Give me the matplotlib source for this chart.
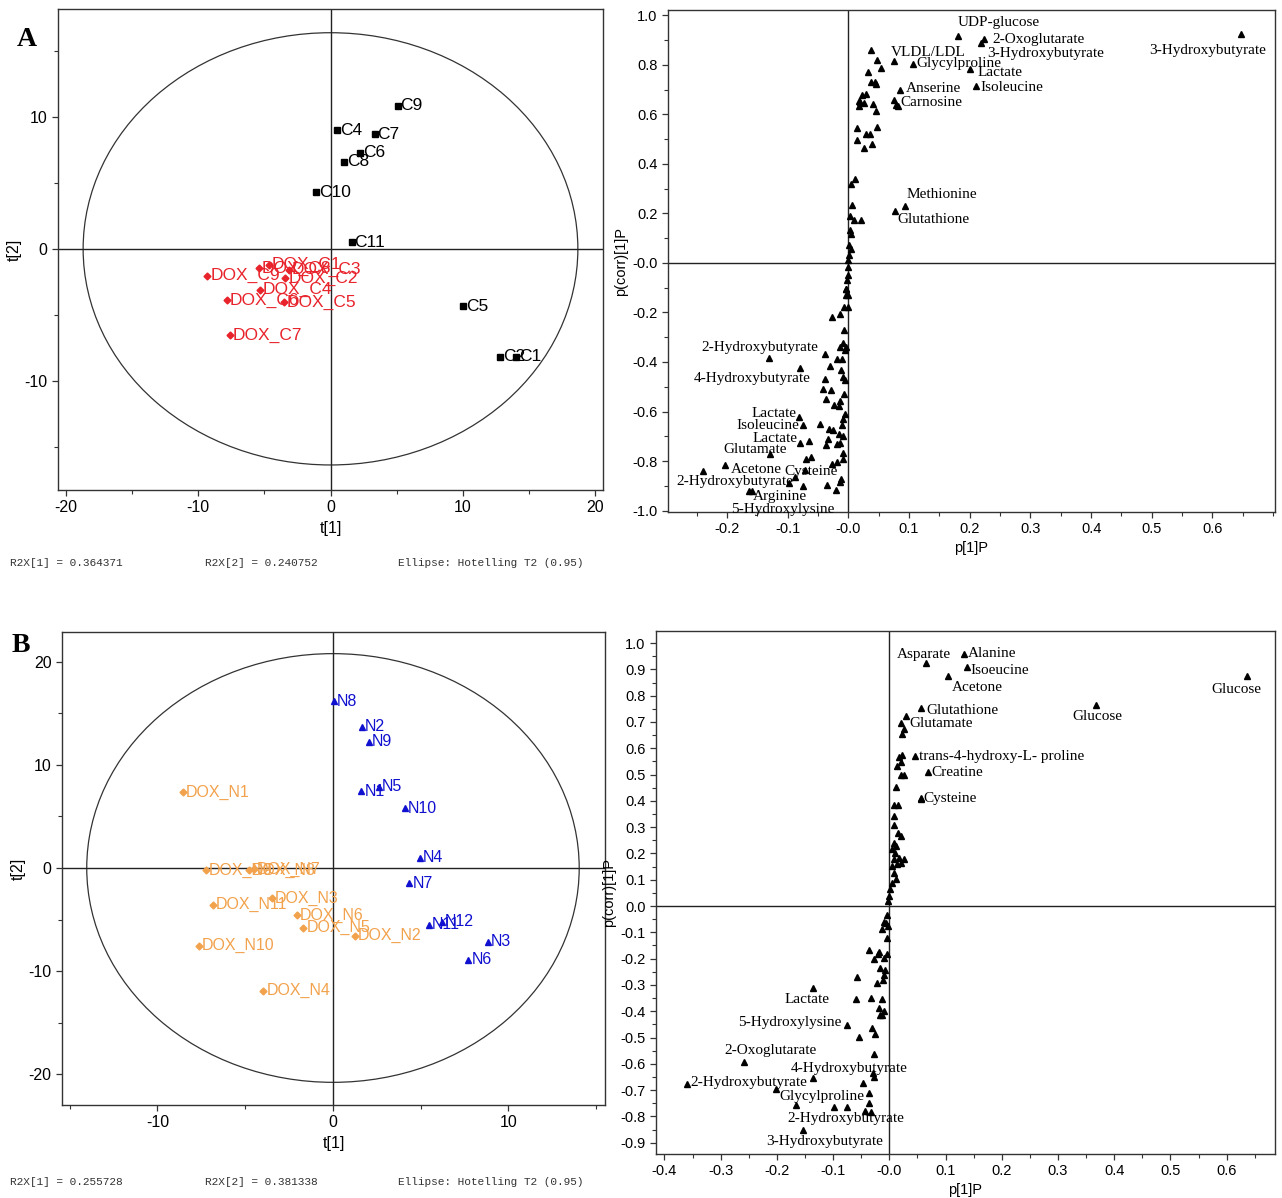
import matplotlib
matplotlib.use("Agg")
import matplotlib.pyplot as plt
from matplotlib.patches import Ellipse
from matplotlib.ticker import MultipleLocator

# ---- panel A, scores ----
a_ctrl_names = ["C1", "C2", "C4", "C5", "C6", "C7", "C8", "C9", "C10", "C11"]
a_ctrl_t1 = [14.0, 12.85, 0.51, 9.99, 2.22, 3.33, 1.05, 5.07, -1.11, 1.59]
a_ctrl_t2 = [-8.17, -8.17, 8.99, -4.35, 7.28, 8.71, 6.6, 10.87, 4.3, 0.51]
a_dox_names = ["DOX_C8", "DOX_C1", "DOX_C3", "DOX_C2", "DOX_C9", "DOX_C4",
               "DOX_C6", "DOX_C5", "DOX_C7"]
a_dox_t1 = [-5.43, -4.65, -3.15, -3.42, -9.3, -5.34, -7.83, -3.54, -7.62]
a_dox_t2 = [-1.49, -1.21, -1.57, -2.25, -2.05, -3.09, -3.88, -4.07, -6.57]
a_r2x = ["R2X[1] = 0.364371", "R2X[2] = 0.240752", "Ellipse: Hotelling T2 (0.95)"]
a_ellipse = (18.7, 16.4)

# ---- panel A, loadings ----
a_lab_names = ["UDP-glucose", "2-Oxoglutarate", "3-Hydroxybutyrate", "3-Hydroxybutyrate",
               "VLDL/LDL", "Glycylproline", "Lactate", "Isoleucine", "Anserine", "Carnosine",
               "Methionine", "Glutathione", "2-Hydroxybutyrate", "4-Hydroxybutyrate",
               "Lactate", "Isoleucine", "Lactate", "Glutamate", "Acetone", "Cysteine",
               "2-Hydroxybutyrate", "Arginine", "5-Hydroxylysine"]
a_lab_x = [0.181, 0.223, 0.218, 0.647, 0.076, 0.106, 0.201, 0.211, 0.085, 0.079,
           0.093, 0.077, -0.130, -0.079, -0.082, -0.075, -0.079, -0.129, -0.203, -0.071,
           -0.098, -0.158, -0.163]
a_lab_y = [0.917, 0.903, 0.888, 0.926, 0.816, 0.802, 0.782, 0.715, 0.70, 0.637,
           0.230, 0.21, -0.384, -0.424, -0.622, -0.656, -0.726, -0.771, -0.818, -0.836,
           -0.89, -0.923, -0.923]
a_other_x = [0.075, 0.082, 0.038, 0.048, 0.054, 0.032, 0.037, 0.044, 0.045, 0.022, 0.029,
             0.017, 0.020, 0.026, 0.017, 0.041, 0.046, 0.015, 0.048, 0.029, 0.035, 0.014,
             0.039, 0.026, 0.011, 0.005, 0.006, 0.003, 0.009, 0.021, 0.003, 0.004, 0.001,
             0.005, 0.001, 0.0, -0.001, -0.001, -0.002, -0.003, -0.003,
             -0.038, -0.026, -0.013, -0.004, -0.001, -0.007, -0.001, -0.007, -0.014, -0.008,
             -0.005, -0.003, -0.019, -0.011, -0.030, -0.038, -0.012, -0.009, -0.005, -0.041,
             -0.029, -0.036, -0.007, -0.014, -0.024, -0.016, -0.005, -0.008, -0.011, -0.047,
             -0.031, -0.025, -0.034, -0.016, -0.008, -0.065, -0.036, -0.018, -0.013, -0.070,
             -0.062, -0.008, -0.008, -0.026, -0.018, -0.240, -0.087, -0.075, -0.035, -0.012,
             -0.014, -0.020]
a_other_y = [0.657, 0.635, 0.859, 0.818, 0.787, 0.773, 0.731, 0.733, 0.724, 0.680, 0.681,
             0.654, 0.650, 0.646, 0.634, 0.642, 0.612, 0.545, 0.548, 0.522, 0.522, 0.495,
             0.479, 0.466, 0.338, 0.319, 0.234, 0.188, 0.172, 0.172, 0.132, 0.118, 0.071,
             0.055, 0.031, 0.013, -0.016, -0.05, -0.07, -0.104, -0.13,
             -0.366, -0.218, -0.208, -0.106, -0.13, -0.177, -0.177, -0.272, -0.339, -0.325,
             -0.352, -0.339, -0.386, -0.386, -0.417, -0.467, -0.433, -0.46, -0.474, -0.508,
             -0.514, -0.548, -0.528, -0.558, -0.572, -0.579, -0.609, -0.629, -0.656, -0.652,
             -0.672, -0.676, -0.71, -0.69, -0.697, -0.72, -0.734, -0.733, -0.728, -0.791,
             -0.782, -0.767, -0.791, -0.811, -0.805, -0.842, -0.865, -0.899, -0.896, -0.872,
             -0.886, -0.917]

# ---- panel B, scores ----
b_ctrl_names = ["N8", "N2", "N9", "N1", "N5", "N10", "N4", "N7", "N11", "N12", "N3", "N6"]
b_ctrl_t1 = [0.07, 1.66, 2.05, 1.62, 2.63, 4.09, 4.95, 4.36, 5.47, 6.2, 8.84, 7.72]
b_ctrl_t2 = [16.2, 13.7, 12.26, 7.44, 7.89, 5.78, 1.0, -1.48, -5.52, -5.2, -7.15, -8.89]
b_dox_names = ["DOX_N1", "DOX_N9", "DOX_N8", "DOX_N7", "DOX_N11", "DOX_N3", "DOX_N6",
               "DOX_N5", "DOX_N2", "DOX_N10", "DOX_N4"]
b_dox_t1 = [-8.55, -7.24, -4.79, -4.5, -6.84, -3.49, -2.07, -1.69, 1.26, -7.65, -3.96]
b_dox_t2 = [7.37, -0.19, -0.19, -0.1, -3.56, -2.96, -4.59, -5.81, -6.56, -7.56, -11.93]
b_r2x = ["R2X[1] = 0.255728", "R2X[2] = 0.381338", "Ellipse: Hotelling T2 (0.95)"]
b_ellipse = (14.03, 20.8)

# ---- panel B, loadings ----
b_lab_names = ["Asparate", "Alanine", "Isoeucine", "Acetone", "Glucose", "Glucose",
               "Glutathione", "Glutamate", "trans-4-hydroxy-L- proline", "Creatine",
               "Cysteine", "Lactate", "5-Hydroxylysine", "2-Oxoglutarate",
               "4-Hydroxybutyrate", "2-Hydroxybutyrate", "Glycylproline",
               "2-Hydroxybutyrate", "3-Hydroxybutyrate"]
b_lab_x = [0.065, 0.132, 0.138, 0.104, 0.637, 0.367, 0.057, 0.021, 0.046, 0.068, 0.057,
           -0.136, -0.075, -0.259, -0.135, -0.360, -0.037, -0.098, -0.153]
b_lab_y = [0.923, 0.959, 0.91, 0.876, 0.876, 0.764, 0.753, 0.695, 0.571, 0.511, 0.406,
           -0.311, -0.452, -0.592, -0.655, -0.677, -0.712, -0.763, -0.852]
b_other_x = [0.030, 0.027, 0.023, 0.023, 0.017, 0.020, 0.014, 0.020, 0.027, 0.011, 0.057,
             0.008, 0.015, 0.009, 0.008, 0.016, 0.021, 0.008, 0.011, 0.005, 0.010, 0.017,
             0.027, 0.021, 0.014, 0.008, 0.004, 0.008, 0.012, 0.004, 0.002, 0.0, -0.002,
             -0.004, -0.010, -0.006, -0.002, -0.013, -0.005, -0.037, -0.019, -0.021, -0.005,
             -0.028, -0.010, -0.016, -0.007, -0.010, -0.057, -0.022, -0.011, -0.060, -0.032,
             -0.013, -0.019, -0.010, -0.017, -0.013, -0.031, -0.025, -0.054, -0.027, -0.029,
             -0.028, -0.202, -0.046, -0.036, -0.166, -0.075, -0.044, -0.032]
b_other_y = [0.723, 0.675, 0.654, 0.575, 0.565, 0.548, 0.533, 0.497, 0.497, 0.454, 0.412,
             0.386, 0.386, 0.343, 0.307, 0.279, 0.266, 0.241, 0.228, 0.216, 0.203, 0.184,
             0.180, 0.165, 0.159, 0.178, 0.152, 0.127, 0.104, 0.089, 0.063, 0.038, 0.019,
             -0.034, -0.060, -0.066, -0.076, -0.089, -0.123, -0.167, -0.174, -0.184, -0.183,
             -0.203, -0.199, -0.234, -0.243, -0.262, -0.269, -0.292, -0.281, -0.355, -0.351,
             -0.354, -0.387, -0.399, -0.416, -0.416, -0.463, -0.487, -0.497, -0.563, -0.636,
             -0.649, -0.697, -0.674, -0.750, -0.757, -0.763, -0.779, -0.782]

# label offsets (pixels) and alignment, same order as the *_lab_names lists
a_lab_pos = [(41, 13, "center"), (9, 0, "left"), (7, -10, "left"), (-33, -17, "center"),
             (34, 8, "center"), (4, 1, "left"), (7, -3, "left"), (4, -2, "left"),
             (6, 1, "left"), (4, 3, "left"), (37, 12, "center"), (38, -9, "center"),
             (-10, 11, "center"), (-48, -11, "center"), (-2, 3, "right"), (-3, 0, "right"),
             (-3, 4, "right"), (-15, 4, "center"), (6, -4, "left"), (6, -2, "center"),
             (-54, 2, "center"), (28, -5, "center"), (33, -18, "center")]
b_lab_pos = [(-2, 9, "center"), (4, 0, "left"), (4, -4, "left"), (30, -12, "center"),
             (-11, -14, "center"), (2, -11, "center"), (5, -2, "left"), (8, 0, "left"),
             (4, -1, "left"), (4, -1, "left"), (2, 1, "left"), (-6, -12, "center"),
             (-6, 2, "right"), (27, 11, "center"), (36, 10, "center"), (3, 2, "left"),
             (-4, -3, "right"), (12, -12, "center"), (21, -11, "center")]

W, H = 1282, 1198
SANS = "Liberation Sans"
SERIF = "Liberation Serif"
MONO = "Liberation Mono"
RED = "#e8232b"
BLUE = "#1010d0"
ORANGE = "#f2a24c"

plt.rcParams["font.family"] = SANS
plt.rcParams["axes.unicode_minus"] = False
fig = plt.figure(figsize=(W / 100, H / 100), dpi=100)


def px_axes(l, t, r, b):
    return fig.add_axes([l / W, 1 - b / H, (r - l) / W, (b - t) / H])


def style(ax, fs):
    for s in ax.spines.values():
        s.set_linewidth(1.0)
        s.set_color("#333333")
    ax.tick_params(which="major", length=4, width=0.9, labelsize=fs, color="#333333")
    ax.tick_params(which="minor", length=3, width=0.8, color="#333333")
    ax.axhline(0, color="#222222", lw=1.0, zorder=1)
    ax.axvline(0, color="#222222", lw=1.0, zorder=1)


def score_plot(ax, ell, ctrl, dox, ctrl_style, dox_style, fs):
    ax.add_patch(Ellipse((0, 0), 2 * ell[0], 2 * ell[1], fill=False, ec="#333333", lw=0.9))
    for (names, xs, ys), (mk, col, ms) in ((ctrl, ctrl_style), (dox, dox_style)):
        ax.plot(xs, ys, ls="none", marker=mk, color=col, ms=ms, zorder=3)
        for n, x, y in zip(names, xs, ys):
            ax.annotate(n, (x, y), xytext=(3, 0), textcoords="offset pixels",
                        ha="left", va="center", color=col, fontsize=fs, zorder=4)
    ax.set_xlabel("t[1]", fontsize=11.5, labelpad=4)
    ax.set_ylabel("t[2]", fontsize=11.5, labelpad=2)
    ax.xaxis.set_minor_locator(MultipleLocator(5))
    ax.yaxis.set_minor_locator(MultipleLocator(5))
    ax.xaxis.set_major_locator(MultipleLocator(10))
    ax.yaxis.set_major_locator(MultipleLocator(10))


def loading_plot(ax, lab, other, pos):
    names, lx, ly = lab
    ax.plot(other[0], other[1], ls="none", marker="^", color="black", ms=4, zorder=3)
    ax.plot(lx, ly, ls="none", marker="^", color="black", ms=4, zorder=3)
    for n, x, y, (dx, dy, ha) in zip(names, lx, ly, pos):
        ax.annotate(n, (x, y), xytext=(dx, dy), textcoords="offset pixels",
                    ha=ha, va="center", fontsize=11, family=SERIF, zorder=4)
    ax.set_xlabel("p[1]P", fontsize=10.5, labelpad=3)
    ax.set_ylabel("p(corr)[1]P", fontsize=10.5, labelpad=3)


def fmt(v):
    s = "%.1f" % v
    return "-0.0" if s in ("0.0", "-0.0") else s


# A, scores
ax1 = px_axes(58, 9, 603, 490)
score_plot(ax1, a_ellipse, (a_ctrl_names, a_ctrl_t1, a_ctrl_t2),
           (a_dox_names, a_dox_t1, a_dox_t2), ("s", "black", 4), ("D", RED, 3.5), 12.5)
ax1.set_xlim(-20.6, 20.6)
ax1.set_ylim(-18.3, 18.2)
ax1.set_yticks([-10, 0, 10])
style(ax1, 11.5)

# A, loadings
ax2 = px_axes(668, 10, 1275, 512)
loading_plot(ax2, (a_lab_names, a_lab_x, a_lab_y), (a_other_x, a_other_y), a_lab_pos)
ax2.set_xlim(-0.297, 0.703)
ax2.set_ylim(-1.006, 1.022)
xt = [-0.2, -0.1, 0.0, 0.1, 0.2, 0.3, 0.4, 0.5, 0.6]
ax2.set_xticks(xt, [fmt(v) for v in xt])
yt = [-1.0, -0.8, -0.6, -0.4, -0.2, 0.0, 0.2, 0.4, 0.6, 0.8, 1.0]
ax2.set_yticks(yt, [fmt(v) for v in yt])
ax2.xaxis.set_minor_locator(MultipleLocator(0.05))
ax2.yaxis.set_minor_locator(MultipleLocator(0.1))
style(ax2, 10.5)

# B, scores
ax3 = px_axes(62, 632, 605, 1105)
score_plot(ax3, b_ellipse, (b_ctrl_names, b_ctrl_t1, b_ctrl_t2),
           (b_dox_names, b_dox_t1, b_dox_t2), ("^", BLUE, 4), ("D", ORANGE, 3.5), 11.5)
ax3.set_xlim(-15.44, 15.5)
ax3.set_ylim(-23.0, 22.9)
ax3.set_xticks([-10, 0, 10])
style(ax3, 11.5)

# B, loadings
ax4 = px_axes(656, 631, 1275, 1154)
loading_plot(ax4, (b_lab_names, b_lab_x, b_lab_y), (b_other_x, b_other_y), b_lab_pos)
ax4.set_xlim(-0.415, 0.686)
ax4.set_ylim(-0.943, 1.046)
xt = [-0.4, -0.3, -0.2, -0.1, 0.0, 0.1, 0.2, 0.3, 0.4, 0.5, 0.6]
ax4.set_xticks(xt, [fmt(v) for v in xt])
yt = [round(-0.9 + 0.1 * i, 1) for i in range(20)]
ax4.set_yticks(yt, ["0.0" if v == 0 else "%.1f" % v for v in yt])
ax4.xaxis.set_minor_locator(MultipleLocator(0.05))
ax4.yaxis.set_minor_locator(MultipleLocator(0.05))
style(ax4, 10.5)

# footers and panel letters
for texts, y in ((a_r2x, 563), (b_r2x, 1182)):
    for t, x in zip(texts, (10, 205, 398)):
        fig.text(x / W, 1 - y / H, t, family=MONO, fontsize=8, va="center",
                 color="#333333")
fig.text(17 / W, 1 - 40 / H, "A", family=SERIF, fontsize=20, fontweight="bold", va="center")
fig.text(12 / W, 1 - 645 / H, "B", family=SERIF, fontsize=20, fontweight="bold", va="center")

fig.savefig("out.png", dpi=100)
